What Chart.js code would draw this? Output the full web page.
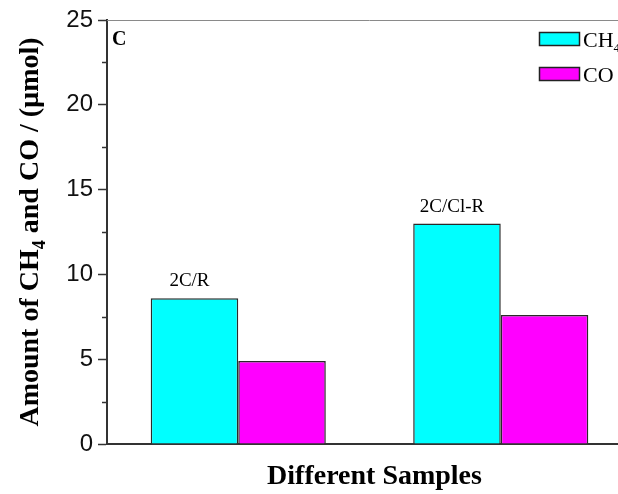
<!DOCTYPE html>
<html>
<head>
<meta charset="utf-8">
<script src="https://cdn.jsdelivr.net/npm/chart.js@4/dist/chart.umd.min.js"></script>
<style>
  html, body { margin: 0; padding: 0; background: #fff; overflow: hidden; }
  #wrap { width: 640px; height: 494px; position: relative; }
</style>
</head>
<body>
<div id="wrap"><canvas id="mycanvas"></canvas></div>
<script>
// values
var samples = ["2C/R", "2C/Cl-R"];
var ch4 = [8.6, 13.0];
var co = [4.9, 7.6];
var yTicks = [0, 5, 10, 15, 20, 25];

var serif = "'Liberation Serif', 'Times New Roman', serif";
var sans = "'Liberation Sans', Arial, sans-serif";

// axis titles, legend, labels, minor ticks, top line
var extras = {
  id: "extras",
  afterDraw: function(chart) {
    var c = chart.ctx, a = chart.chartArea, ys = chart.scales.y;

    // top frame line
    c.save();
    c.strokeStyle = "#8a8a8a";
    c.lineWidth = 1;
    c.beginPath();
    c.moveTo(a.left, a.top + 0.5);
    c.lineTo(a.right, a.top + 0.5);
    c.stroke();

    // minor ticks
    c.strokeStyle = "#333";
    c.lineWidth = 1.5;
    for (var v = 2.5; v < 25; v += 5) {
      var py = Math.round(ys.getPixelForValue(v)) + 0.5;
      c.beginPath();
      c.moveTo(a.left - 5, py);
      c.lineTo(a.left, py);
      c.stroke();
    }

    // panel letter
    c.fillStyle = "#000";
    c.font = "bold 20px " + serif;
    c.textAlign = "left";
    c.textBaseline = "alphabetic";
    c.fillText("C", a.left + 5, a.top + 25);

    // sample names above the CH4 bars
    c.font = "19px " + serif;
    c.textAlign = "center";
    var meta = chart.getDatasetMeta(0);
    meta.data.forEach(function(bar, i) {
      c.fillText(samples[i], bar.x - 5, bar.y - 12);
    });

    // legend
    var lx = a.right - 93;
    var items = [["CH", "4", "#00ffff", a.top + 12], ["CO", "", "#ff00ff", a.top + 47]];
    items.forEach(function(it) {
      c.fillStyle = it[2];
      c.fillRect(lx, it[3], 41, 14);
      c.strokeStyle = "#222";
      c.lineWidth = 1.5;
      c.strokeRect(lx + 0.5, it[3] + 0.5, 40, 13);
      c.fillStyle = "#000";
      c.font = "22px " + serif;
      c.textAlign = "left";
      c.fillText(it[0], lx + 44, it[3] + 15);
      if (it[1]) {
        var w = c.measureText(it[0]).width;
        c.font = "13px " + serif;
        c.fillText(it[1], lx + 44 + w, it[3] + 20);
      }
    });

    // x title
    c.font = "bold 28px " + serif;
    c.textAlign = "center";
    c.fillText("Different Samples", (a.left + a.right) / 2 + 5, a.bottom + 40);

    // y title with subscript
    var parts = [["Amount of CH", "bold 28px " + serif, 0], ["4", "bold 18px " + serif, 7], [" and CO / (\u00b5mol)", "bold 28px " + serif, 0]];
    var total = 0;
    parts.forEach(function(p) { c.font = p[1]; p.push(c.measureText(p[0]).width); total += p[3]; });
    c.translate(38, (a.top + a.bottom) / 2);
    c.rotate(-Math.PI / 2);
    c.textAlign = "left";
    var x = -total / 2;
    parts.forEach(function(p) {
      c.font = p[1];
      c.fillText(p[0], x, p[2]);
      x += p[3];
    });
    c.restore();
  }
};

var ctx = document.getElementById("mycanvas");

var chartdata = {
  labels: samples,
  datasets: [
    {
      label: "CH4",
      data: ch4,
      backgroundColor: "#00ffff",
      borderColor: "#2a2a2a",
      borderWidth: 1.5
    },
    {
      label: "CO",
      data: co,
      backgroundColor: "#ff00ff",
      borderColor: "#2a2a2a",
      borderWidth: 1.5
    }
  ]
};

var BarGraph = new Chart(ctx, {
  type: "bar",
  data: chartdata,
  plugins: [extras],
  options: {
    responsive: true,
    maintainAspectRatio: false,
    animation: false,
    layout: { padding: { top: 20, right: 8, left: 0, bottom: 0 } },
    plugins: {
      legend: { display: false },
      tooltip: { enabled: false }
    },
    datasets: {
      bar: { categoryPercentage: 0.667, barPercentage: 1.0 }
    },
    scales: {
      x: {
        afterFit: function(s) { s.height = 50; },
        ticks: { display: false },
        grid: { display: true, drawOnChartArea: false, drawTicks: false },
        border: { display: true, color: "#333", width: 2 }
      },
      y: {
        min: yTicks[0],
        max: yTicks[yTicks.length - 1],
        afterFit: function(s) { s.width = 107; },
        ticks: {
          stepSize: 2.5,
          color: "#111",
          padding: 5,
          font: { family: sans, size: 24 },
          callback: function(v) { return yTicks.indexOf(v) >= 0 ? v : ""; }
        },
        grid: {
          drawOnChartArea: false,
          drawTicks: true,
          tickLength: 9,
          tickWidth: 1.5,
          tickColor: function(c) { return c.tick && yTicks.indexOf(c.tick.value) >= 0 ? "#333" : "rgba(0,0,0,0)"; }
        },
        border: { display: true, color: "#333", width: 2 }
      }
    }
  }
});
</script>
</body>
</html>
